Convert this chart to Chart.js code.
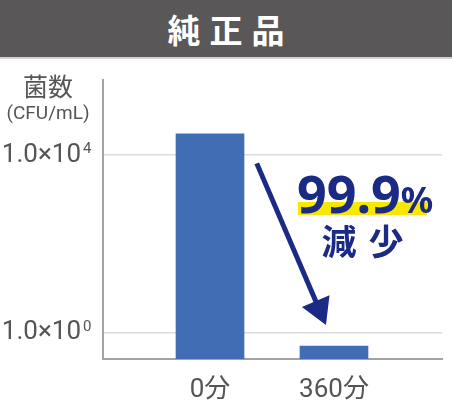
<!DOCTYPE html>
<html lang="ja">
<head>
<meta charset="utf-8">
<script src="https://cdn.jsdelivr.net/npm/chart.js@4.4.1/dist/chart.umd.min.js"></script>
<style>
  html, body { margin: 0; padding: 0; background: #fff; }
  #wrap { position: relative; width: 452px; height: 400px; overflow: hidden; }
  #banner {
    position: absolute; left: 0; top: 0; width: 452px; height: 59px;
    background: #595757; border-bottom: 2px solid #d2d2d2;
    color: #fff; font: bold 33px "Noto Sans CJK JP", sans-serif;
    letter-spacing: 9px; padding-left: 9px; box-sizing: border-box;
    text-align: center; line-height: 59px; z-index: 2;
  }
  canvas { position: absolute; left: 0; top: 0; }
</style>
</head>
<body>
<div id="wrap">
  <div id="banner">純正品</div>
  <canvas id="chart" width="452" height="400"></canvas>
</div>
<script>
// dados do gráfico
const categorias = ['0分', '360分'];
const contagem = [30000, 0.5];
const yTickValores = [1, 10000];
const yTickBase = '1.0×10';
const yTickExpoentes = ['0', '4'];
const tituloEixo = ['菌数', '(CFU/mL)'];
const reducaoTexto = ['99.9', '%'];
const reducaoLegenda = ['減', '少'];

const cinza = '#555555';
const azulEscuro = '#1b2a84';
const fonteTicks = { family: 'Roboto, "Noto Sans CJK JP", sans-serif', size: 26 };

// títulos do eixo, expoentes e a seta de redução
const anotacoes = {
  id: 'anotacoes',
  afterDatasetsDraw(chart) {
    const { ctx, scales: { x, y } } = chart;
    ctx.save();

    // título do eixo y
    ctx.fillStyle = cinza;
    ctx.textAlign = 'center';
    ctx.textBaseline = 'middle';
    ctx.font = '25px "Noto Sans CJK JP", sans-serif';
    ctx.fillText(tituloEixo[0], 48, 86);
    ctx.font = '19px Roboto, sans-serif';
    ctx.fillText(tituloEixo[1], 48, 114);

    // expoentes dos rótulos do eixo y
    ctx.textAlign = 'left';
    ctx.textBaseline = 'alphabetic';
    ctx.font = '15px Roboto, sans-serif';
    yTickValores.forEach((v, i) => {
      ctx.fillText(yTickExpoentes[i], y.left + y.width - 20, y.getPixelForValue(v) - 2);
    });

    // seta
    const x1 = x.getPixelForValue(0.377), y1 = y.getPixelForValue(6500);
    const x2 = x.getPixelForValue(0.935), y2 = y.getPixelForValue(1.49);
    const ang = Math.atan2(y2 - y1, x2 - x1);
    const cab = 26, meia = 15;
    const bx = x2 - cab * Math.cos(ang), by = y2 - cab * Math.sin(ang);
    ctx.strokeStyle = azulEscuro;
    ctx.fillStyle = azulEscuro;
    ctx.lineWidth = 5;
    ctx.beginPath();
    ctx.moveTo(x1, y1);
    ctx.lineTo(bx + 4 * Math.cos(ang), by + 4 * Math.sin(ang));
    ctx.stroke();
    ctx.beginPath();
    ctx.moveTo(x2, y2);
    ctx.lineTo(bx + meia * Math.sin(ang), by - meia * Math.cos(ang));
    ctx.lineTo(bx - meia * Math.sin(ang), by + meia * Math.cos(ang));
    ctx.closePath();
    ctx.fill();

    // marca-texto amarelo
    ctx.fillStyle = '#f6e800';
    ctx.fillRect(298, 202, 129, 13);

    // 99.9%
    ctx.fillStyle = azulEscuro;
    ctx.font = 'bold 52px "Noto Sans", sans-serif';
    ctx.fillText(reducaoTexto[0], 297, 213);
    const w = ctx.measureText(reducaoTexto[0]).width;
    ctx.font = 'bold 36px "Noto Sans", sans-serif';
    ctx.fillText(reducaoTexto[1], 297 + w, 213);

    // 減少
    ctx.textAlign = 'center';
    ctx.textBaseline = 'middle';
    ctx.font = 'bold 35px "Noto Sans CJK JP", sans-serif';
    ctx.fillText(reducaoLegenda[0], 339, 242);
    ctx.fillText(reducaoLegenda[1], 386, 242);

    ctx.restore();
  }
};

new Chart(document.getElementById('chart'), {
  type: 'bar',
  data: {
    datasets: [{
      data: categorias.map((c, i) => ({ x: i, y: contagem[i] })),
      backgroundColor: '#406db3',
      barThickness: 68
    }]
  },
  options: {
    responsive: false,
    animation: false,
    layout: { padding: { top: 80, right: 10, left: 0, bottom: 0 } },
    plugins: {
      legend: { display: false },
      tooltip: { enabled: false }
    },
    scales: {
      x: {
        type: 'linear',
        min: -0.863,
        max: 1.871,
        offset: false,
        grid: { display: false, offset: false },
        border: { color: '#a3a3a3', width: 2 },
        ticks: {
          font: fonteTicks,
          color: cinza,
          padding: 8,
          callback: v => categorias[v] ?? ''
        },
        afterBuildTicks: s => { s.ticks = categorias.map((c, i) => ({ value: i })); },
        afterFit: s => { s.height = 41; }
      },
      y: {
        type: 'logarithmic',
        min: 0.256,
        max: 490000,
        grid: { color: '#dcdcdc', lineWidth: 1.5, drawTicks: false },
        border: { color: '#a3a3a3', width: 2 },
        ticks: {
          font: fonteTicks,
          color: cinza,
          padding: 22,
          callback: v => yTickValores.includes(v) ? yTickBase : ''
        },
        afterBuildTicks: s => { s.ticks = yTickValores.map(v => ({ value: v })); },
        afterFit: s => { s.width = 103; }
      }
    }
  },
  plugins: [anotacoes]
});
</script>
</body>
</html>
